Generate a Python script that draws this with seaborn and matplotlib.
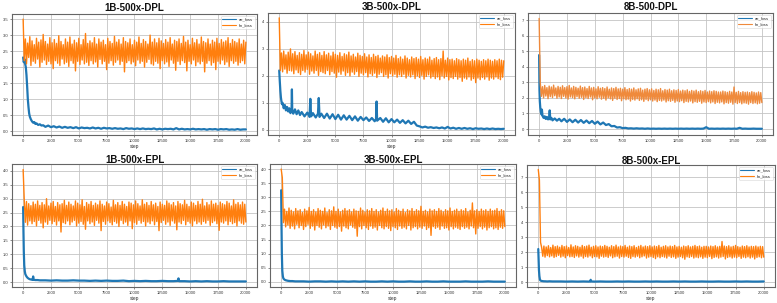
import numpy as np
import pandas as pd
import matplotlib
matplotlib.use("Agg")
import matplotlib.pyplot as plt
from matplotlib.ticker import MultipleLocator, FormatStrFormatter
import seaborn as sns

TITLES = ["1B-500x-DPL", "3B-500x-DPL", "8B-500-DPL",
          "1B-500x-EPL", "3B-500x-EPL", "8B-500x-EPL"]
XTICKS = [0, 2500, 5000, 7500, 10000, 12500, 15000, 17500, 20000]
SERIES_LABELS = ["ae_loss", "lm_loss"]

# sampling grids (training steps) for the later part of ae_loss
LATE_DENSE = list(range(2000, 20001, 250))
LATE_SPARSE = list(range(2000, 20001, 500))

# ---------------- ae_loss ----------------
ae_steps_1b_dpl = [0, 60, 120, 180, 240, 300, 360, 420, 480, 540, 600, 700, 800, 900, 1000,
                   1100, 1200, 1350, 1500, 1650, 1800] + LATE_DENSE
ae_1b_dpl = [2.30, 2.15, 2.25, 2.10, 2.00, 1.75, 1.40, 1.00, 0.75, 0.55, 0.45, 0.36, 0.30, 0.26, 0.28,
             0.22, 0.24, 0.19, 0.21, 0.17, 0.18,
             0.13, 0.17, 0.12, 0.15, 0.11, 0.14, 0.10, 0.13, 0.10,
             0.12, 0.09, 0.12, 0.08, 0.11, 0.09, 0.10, 0.08,
             0.11, 0.08, 0.10, 0.07, 0.10, 0.08, 0.09, 0.07,
             0.09, 0.07, 0.08, 0.06, 0.09, 0.07, 0.08, 0.06,
             0.08, 0.06, 0.08, 0.06, 0.07, 0.06, 0.08, 0.05,
             0.07, 0.05, 0.07, 0.06, 0.07, 0.05, 0.09, 0.05,
             0.07, 0.05, 0.06, 0.05, 0.07, 0.05, 0.06, 0.05,
             0.06, 0.04, 0.06, 0.05, 0.06, 0.04, 0.06, 0.05,
             0.06, 0.04, 0.05, 0.04, 0.06, 0.04, 0.05, 0.05]

ae_steps_3b_dpl = [0, 50, 100, 150, 200, 250, 300, 400, 500, 600, 700, 800, 900, 1000, 1100,
                   1130, 1160, 1250, 1400, 1550, 1700, 1850,
                   2000, 2250, 2500, 2700, 2770, 2840, 3000, 3250, 3450, 3520, 3590, 3750, 4000,
                   4250, 4500, 4750, 5000, 5250, 5500, 5750, 6000,
                   6250, 6500, 6750, 7000, 7250, 7500, 7750, 8000,
                   8250, 8500, 8620, 8670, 8720, 9000, 9250, 9500, 9750, 10000,
                   10250, 10500, 10750, 11000, 11250, 11500, 11750, 12000,
                   12250, 12500, 12750, 13000, 13250, 13500, 13750, 14000,
                   14250, 14500, 14750, 15000, 15250, 15500, 15750, 16000,
                   16250, 16500, 16750, 17000, 17250, 17500, 17750, 18000,
                   18250, 18500, 18750, 19000, 19250, 19500, 19750, 20000]
ae_3b_dpl = [2.20, 1.80, 1.45, 1.20, 1.05, 0.95, 1.00, 0.80, 0.92, 0.72, 0.85, 0.68, 0.80, 0.62, 0.78,
             1.50, 0.70, 0.60, 0.76, 0.58, 0.72, 0.55,
             0.66, 0.50, 0.64, 0.48, 1.15, 0.50, 0.62, 0.46, 0.60, 1.18, 0.48, 0.60, 0.44,
             0.60, 0.42, 0.58, 0.40, 0.56, 0.38, 0.54, 0.38,
             0.52, 0.36, 0.50, 0.34, 0.48, 0.36, 0.46, 0.33,
             0.44, 0.32, 0.40, 1.05, 0.34, 0.44, 0.30, 0.43, 0.28, 0.40,
             0.28, 0.38, 0.26, 0.36, 0.24, 0.34, 0.22, 0.30,
             0.16, 0.13, 0.09, 0.12, 0.08, 0.10, 0.07, 0.09,
             0.06, 0.09, 0.05, 0.11, 0.05, 0.08, 0.04, 0.07,
             0.04, 0.07, 0.04, 0.06, 0.03, 0.06, 0.04, 0.05,
             0.03, 0.05, 0.03, 0.05, 0.03, 0.04, 0.03, 0.04]

ae_steps_8b_dpl = [0, 30, 60, 100, 150, 200, 250, 300, 350, 400, 500, 600, 700, 800, 900,
                   950, 1000, 1100, 1200, 1400, 1600, 1800] + LATE_DENSE
ae_8b_dpl = [4.75, 2.50, 1.80, 1.40, 1.10, 0.95, 1.25, 0.85, 0.80, 0.72, 0.82, 0.65, 0.78, 0.62, 0.75,
             1.20, 0.62, 0.72, 0.56, 0.68, 0.54, 0.66,
             0.50, 0.66, 0.46, 0.62, 0.44, 0.60, 0.42, 0.58, 0.40,
             0.55, 0.38, 0.52, 0.34, 0.48, 0.30, 0.42, 0.26,
             0.32, 0.18, 0.20, 0.10, 0.12, 0.06, 0.08, 0.04,
             0.05, 0.03, 0.05, 0.03, 0.04, 0.02, 0.04, 0.02,
             0.03, 0.02, 0.03, 0.02, 0.03, 0.02, 0.03, 0.02,
             0.03, 0.02, 0.03, 0.02, 0.03, 0.02, 0.03, 0.02,
             0.03, 0.02, 0.03, 0.12, 0.02, 0.03, 0.02, 0.03,
             0.02, 0.03, 0.02, 0.03, 0.02, 0.03, 0.02, 0.08,
             0.02, 0.03, 0.02, 0.02, 0.03, 0.02, 0.02, 0.02]

ae_steps_1b_epl = ([0, 30, 60, 100, 150, 200, 300, 400, 500, 600, 700, 800, 850, 900, 950,
                    1100, 1300, 1500, 1750] + list(range(2000, 13501, 500))
                   + [13900, 13950, 14000] + list(range(14500, 20001, 500)))
ae_1b_epl = [2.70, 1.80, 1.10, 0.60, 0.38, 0.28, 0.20, 0.15, 0.12, 0.10, 0.09, 0.08, 0.08, 0.20, 0.08,
             0.07, 0.07, 0.06, 0.06,
             0.06, 0.05, 0.06, 0.05, 0.05, 0.06, 0.05, 0.05, 0.04, 0.05, 0.04, 0.05,
             0.04, 0.04, 0.05, 0.03, 0.04, 0.03, 0.04, 0.03, 0.03, 0.04, 0.03, 0.03,
             0.04, 0.13, 0.03,
             0.03, 0.02, 0.03, 0.02, 0.03, 0.02, 0.02, 0.03, 0.02, 0.02, 0.02, 0.02]

ae_steps_3b_epl = [0, 30, 60, 100, 150, 200, 300, 400, 500, 600, 800, 1000, 1250, 1500, 1750] + LATE_SPARSE
ae_3b_epl = [3.25, 2.00, 1.00, 0.40, 0.20, 0.12, 0.08, 0.06, 0.05, 0.04, 0.03, 0.03, 0.02, 0.02, 0.02,
             0.02, 0.01, 0.02, 0.02, 0.01, 0.02, 0.01, 0.02, 0.01, 0.02,
             0.01, 0.02, 0.01, 0.01, 0.02, 0.01, 0.02, 0.01, 0.01, 0.02,
             0.01, 0.01, 0.02, 0.01, 0.01, 0.02, 0.01, 0.01, 0.01, 0.02,
             0.01, 0.01, 0.01, 0.02, 0.01, 0.01, 0.01]

ae_steps_8b_epl = ([0, 30, 60, 100, 150, 200, 300, 400, 500, 600, 800, 1000, 1250, 1500, 1750,
                    2000, 2500, 3000, 3500, 4000, 4500, 4600, 4650, 4700]
                   + list(range(5000, 20001, 500)))
ae_8b_epl = [2.20, 1.50, 0.80, 0.40, 0.15, 0.10, 0.07, 0.06, 0.05, 0.05, 0.04, 0.05, 0.04, 0.04, 0.04,
             0.04, 0.03, 0.04, 0.03, 0.04, 0.03, 0.04, 0.15, 0.04,
             0.03, 0.04, 0.03, 0.03, 0.04, 0.03, 0.04, 0.03, 0.03, 0.04,
             0.03, 0.04, 0.03, 0.03, 0.04, 0.03, 0.04, 0.03, 0.03, 0.04,
             0.03, 0.03, 0.04, 0.03, 0.03, 0.04, 0.03, 0.04, 0.03, 0.03, 0.04]

# ---------------- lm_loss (read at evenly spaced steps 0..20000) ----------------
lm_1b_dpl = [3.50, 2.20, 2.88, 2.10, 2.75, 2.30, 2.95, 2.05, 2.82, 2.18, 2.70, 2.12, 2.90, 2.25, 2.78, 2.00, 2.85, 2.15, 3.02, 2.22,
             2.80, 2.08, 2.72, 2.18, 2.92, 2.10, 2.76, 1.95, 2.86, 2.20, 2.74, 2.12, 2.98, 2.05, 2.80, 2.25, 2.70, 2.10, 2.88, 2.15,
             2.78, 2.02, 2.94, 2.20, 2.72, 2.12, 2.84, 1.88, 2.76, 2.18, 2.90, 2.08, 2.70, 2.22, 2.86, 2.10, 3.05, 2.15, 2.74, 2.05,
             2.82, 2.20, 2.76, 2.10, 2.92, 2.16, 2.72, 2.00, 2.88, 2.24, 2.78, 2.10, 2.84, 2.18, 2.70, 1.92, 2.90, 2.12, 2.80, 2.20,
             2.74, 2.06, 2.96, 2.15, 2.78, 2.22, 2.86, 2.08, 2.72, 2.18, 2.92, 1.85, 2.80, 2.14, 2.76, 2.20, 2.88, 2.10, 2.70, 2.16,
             2.84, 2.04, 2.78, 2.22, 2.94, 2.12, 2.74, 2.18, 2.86, 2.00, 2.80, 2.15, 2.72, 2.24, 3.00, 2.10, 2.78, 2.06, 2.88, 2.18,
             2.76, 2.12, 2.90, 1.95, 2.82, 2.20, 2.74, 2.10, 2.86, 2.16, 2.78, 2.02, 2.92, 2.22, 2.72, 2.12, 2.84, 1.90, 2.80, 2.18,
             2.88, 2.08, 2.74, 2.20, 2.96, 2.14, 2.78, 1.88, 2.84, 2.18, 2.70, 2.10, 2.90, 2.22, 2.76, 2.04, 2.86, 2.16, 2.72, 2.10,
             2.94, 2.18, 2.80, 1.85, 2.76, 2.12, 2.88, 2.20, 2.72, 2.06, 2.84, 2.14, 2.78, 1.92, 2.90, 2.18, 2.74, 2.10, 2.86, 2.22,
             2.78, 2.08, 2.82, 2.16, 2.92, 2.02, 2.74, 2.20, 2.86, 2.12, 2.80, 2.18, 2.76, 2.06, 2.88, 2.14, 2.72, 2.20, 2.84, 2.10,
             2.78]
lm_3b_dpl = [4.15, 2.20, 2.85, 2.15, 2.92, 2.25, 2.78, 2.10, 2.88, 2.20, 3.00, 2.18, 2.82, 2.08, 2.90, 2.22, 2.76, 2.12, 2.86, 2.05,
             2.80, 2.20, 2.94, 2.14, 2.78, 2.24, 2.88, 2.06, 2.82, 2.18, 2.74, 2.10, 2.92, 2.20, 2.80, 2.02, 2.86, 2.16, 2.76, 2.12,
             2.90, 2.08, 2.78, 2.20, 2.84, 2.04, 2.74, 2.16, 2.88, 2.10, 2.80, 1.95, 2.76, 2.14, 2.86, 2.06, 2.72, 2.18, 2.82, 2.02,
             2.78, 2.12, 2.88, 2.00, 2.74, 2.14, 2.80, 2.06, 2.70, 2.16, 2.84, 1.98, 2.76, 2.10, 2.72, 2.04, 2.82, 2.12, 2.70, 1.96,
             2.78, 2.08, 2.68, 2.02, 2.80, 2.10, 2.72, 1.94, 2.76, 2.06, 2.66, 2.12, 2.74, 1.98, 2.70, 2.04, 2.78, 1.92, 2.68, 2.08,
             2.72, 2.00, 2.66, 2.06, 2.76, 1.95, 2.64, 2.04, 2.70, 1.98, 2.62, 2.06, 2.74, 1.92, 2.66, 2.02, 2.60, 1.96, 2.70, 2.04,
             2.64, 1.90, 2.68, 2.00, 2.62, 1.94, 2.72, 2.02, 2.60, 1.88, 2.66, 1.98, 2.62, 2.04, 2.70, 1.92, 2.58, 1.98, 2.64, 1.90,
             2.68, 1.96, 2.60, 1.86, 2.64, 2.00, 2.92, 1.92, 2.58, 1.98, 2.66, 1.85, 2.60, 1.94, 2.62, 1.90, 2.56, 1.98, 2.64, 1.88,
             2.60, 1.94, 2.56, 1.80, 2.62, 1.92, 2.58, 1.88, 2.66, 1.96, 2.54, 1.84, 2.60, 1.90, 2.56, 1.75, 2.62, 1.92, 2.58, 1.86,
             2.54, 1.94, 2.60, 1.88, 2.56, 1.96, 2.62, 1.84, 2.58, 1.92, 2.54, 1.88, 2.60, 1.96, 2.56, 1.90, 2.62, 1.86, 2.58, 1.95,
             2.56]
lm_8b_dpl = [7.10, 3.00, 2.10, 2.72, 2.00, 2.80, 2.12, 2.66, 1.95, 2.76, 2.08, 2.70, 2.02, 2.82, 2.14, 2.64, 1.98, 2.74, 2.06, 2.68,
             1.96, 2.78, 2.10, 2.66, 2.00, 2.72, 1.92, 2.80, 2.06, 2.64, 2.02, 2.74, 1.94, 2.68, 2.08, 2.62, 1.98, 2.76, 2.04, 2.66,
             1.90, 2.70, 2.02, 2.60, 1.96, 2.74, 2.06, 2.64, 1.88, 2.68, 2.00, 2.58, 1.94, 2.72, 2.04, 2.62, 1.92, 2.66, 1.98, 2.60,
             1.86, 2.70, 2.00, 2.56, 1.94, 2.64, 1.84, 2.60, 1.98, 2.68, 1.90, 2.58, 1.96, 2.62, 1.82, 2.56, 1.94, 2.66, 1.88, 2.54,
             1.92, 2.60, 1.80, 2.56, 1.90, 2.64, 1.86, 2.52, 1.94, 2.58, 1.84, 2.62, 1.88, 2.50, 1.78, 2.56, 1.90, 2.60, 1.82, 2.52,
             1.88, 2.58, 1.80, 2.48, 1.86, 2.56, 1.76, 2.52, 1.84, 2.60, 1.80, 2.46, 1.86, 2.54, 1.74, 2.50, 1.82, 2.56, 1.78, 2.46,
             1.84, 2.52, 1.72, 2.48, 1.80, 2.54, 1.76, 2.44, 1.82, 2.50, 1.70, 2.46, 1.78, 2.52, 1.74, 2.42, 1.80, 2.48, 1.68, 2.44,
             1.76, 2.50, 1.72, 2.40, 1.78, 2.46, 1.66, 2.42, 1.74, 2.48, 1.70, 2.38, 1.76, 2.44, 1.68, 2.40, 1.74, 2.46, 1.64, 2.42,
             1.72, 2.38, 1.68, 2.38, 1.74, 2.44, 1.62, 2.40, 1.70, 2.36, 1.66, 2.42, 1.72, 2.38, 1.60, 2.70, 1.70, 2.36, 1.64, 2.42,
             1.70, 2.34, 1.62, 2.40, 1.68, 2.36, 1.66, 2.38, 1.60, 2.34, 1.70, 2.40, 1.64, 2.36, 1.68, 2.32, 1.62, 2.38, 1.66, 2.34,
             1.70]
lm_1b_epl = [4.05, 2.95, 2.15, 2.90, 2.05, 2.82, 2.20, 2.75, 2.10, 2.88, 2.18, 2.80, 2.02, 2.92, 2.22, 2.76, 2.12, 2.86, 1.95, 2.78,
             2.16, 3.00, 2.08, 2.74, 2.22, 2.84, 2.10, 2.90, 2.18, 2.72, 2.05, 2.86, 2.20, 2.78, 1.80, 2.82, 2.14, 2.94, 2.10, 2.76,
             2.20, 2.88, 2.06, 2.80, 2.16, 2.74, 2.22, 2.92, 2.02, 2.84, 2.12, 2.78, 2.18, 2.96, 2.08, 2.72, 1.90, 2.86, 2.20, 2.80,
             2.10, 2.90, 2.16, 2.76, 2.04, 2.84, 2.22, 2.78, 2.12, 2.92, 1.85, 2.80, 2.18, 2.74, 2.08, 2.88, 2.20, 2.82, 2.14, 2.70,
             2.06, 2.94, 2.18, 2.78, 2.12, 2.86, 2.00, 2.76, 2.22, 2.90, 2.10, 2.80, 2.16, 2.72, 2.04, 2.88, 2.20, 2.84, 1.92, 2.78,
             2.14, 2.92, 2.08, 2.82, 2.22, 2.74, 2.12, 2.96, 2.18, 2.80, 2.02, 2.86, 2.16, 2.76, 2.10, 2.90, 2.20, 2.78, 2.06, 2.84,
             2.18, 2.72, 1.85, 2.88, 2.14, 2.80, 2.22, 2.76, 2.08, 2.92, 2.16, 2.84, 2.04, 2.78, 2.20, 2.86, 2.12, 2.74, 1.88, 2.90,
             2.16, 2.82, 2.10, 2.78, 2.22, 2.94, 2.06, 2.80, 2.18, 2.72, 2.12, 2.88, 2.02, 2.84, 2.20, 2.76, 2.10, 2.90, 2.16, 2.80,
             2.08, 2.98, 2.18, 2.74, 2.12, 2.86, 2.22, 2.78, 2.04, 2.92, 2.14, 2.80, 2.20, 2.84, 2.10, 2.76, 1.86, 2.88, 2.16, 2.82,
             2.12, 2.78, 2.20, 2.90, 2.06, 2.84, 2.18, 2.74, 2.10, 2.96, 2.14, 2.80, 2.02, 2.86, 2.20, 2.78, 2.12, 2.88, 2.08, 2.80,
             2.16]
lm_3b_epl = [4.00, 3.70, 2.10, 2.58, 1.95, 2.50, 2.02, 2.62, 1.90, 2.54, 1.98, 2.48, 1.88, 2.60, 2.04, 2.52, 1.92, 2.56, 2.00, 2.46,
             1.86, 2.58, 1.96, 2.52, 2.04, 2.64, 1.90, 2.50, 1.98, 2.56, 1.84, 2.48, 2.00, 2.60, 1.94, 2.54, 1.88, 2.50, 2.02, 2.62,
             1.92, 2.46, 1.98, 2.56, 1.86, 2.52, 2.00, 2.66, 1.94, 2.50, 1.90, 2.58, 1.96, 2.48, 1.80, 2.54, 1.98, 2.60, 1.92, 2.52,
             1.88, 2.56, 2.02, 2.48, 1.94, 2.58, 1.90, 2.52, 1.62, 2.50, 1.96, 2.62, 1.88, 2.54, 2.00, 2.48, 1.92, 2.56, 1.86, 2.52,
             1.98, 2.60, 1.90, 2.50, 1.94, 2.56, 1.84, 2.48, 2.00, 2.54, 1.92, 2.62, 1.88, 2.50, 1.96, 2.58, 1.90, 2.52, 1.82, 2.56,
             1.96, 2.48, 1.92, 2.60, 1.86, 2.54, 1.98, 2.50, 1.90, 2.58, 1.94, 2.46, 1.88, 2.56, 2.00, 2.52, 1.84, 2.60, 1.92, 2.50,
             1.96, 2.56, 1.88, 2.52, 1.94, 2.68, 1.90, 2.50, 1.98, 2.54, 1.86, 2.48, 1.92, 2.58, 1.65, 2.52, 1.96, 2.56, 1.90, 2.50,
             1.94, 2.60, 1.86, 2.54, 1.98, 2.48, 1.90, 2.56, 1.92, 2.52, 1.84, 2.62, 1.96, 2.50, 1.88, 2.54, 1.94, 2.58, 1.90, 2.50,
             1.86, 2.56, 1.96, 2.52, 1.90, 2.60, 1.94, 2.48, 1.88, 2.54, 1.98, 2.80, 1.92, 2.52, 1.70, 2.56, 1.90, 2.50, 1.96, 2.58,
             1.88, 2.52, 1.94, 2.56, 1.84, 2.50, 1.92, 2.58, 1.96, 2.52, 1.88, 2.54, 1.92, 2.60, 1.86, 2.50, 1.94, 2.56, 1.90, 2.52,
             1.96]
lm_8b_epl = [7.50, 6.80, 2.65, 2.30, 1.72, 2.40, 1.66, 2.34, 1.76, 2.42, 1.68, 2.30, 1.74, 2.46, 1.64, 2.36, 1.70, 2.40, 1.78, 2.32,
             1.66, 2.44, 1.72, 2.36, 1.62, 2.40, 1.76, 2.30, 1.68, 2.48, 1.70, 2.34, 1.64, 2.42, 1.74, 2.38, 1.66, 2.32, 1.72, 2.44,
             1.60, 2.36, 1.70, 2.40, 1.66, 2.46, 1.74, 2.32, 1.62, 2.38, 1.70, 2.42, 1.68, 2.34, 1.58, 2.40, 1.72, 2.36, 1.66, 2.44,
             1.70, 2.38, 1.64, 2.32, 1.74, 2.42, 1.62, 2.36, 1.68, 2.46, 1.72, 2.34, 1.60, 2.40, 1.70, 2.36, 1.66, 2.44, 1.72, 2.32,
             1.64, 2.40, 1.58, 2.36, 1.70, 2.42, 1.66, 2.30, 1.72, 2.38, 1.62, 2.44, 1.68, 2.34, 1.74, 2.40, 1.60, 2.36, 1.66, 2.42,
             1.70, 2.34, 1.64, 2.40, 1.56, 2.36, 1.68, 2.44, 1.62, 2.32, 1.70, 2.38, 1.66, 2.42, 1.60, 2.34, 1.72, 2.40, 1.64, 2.36,
             1.68, 2.44, 1.58, 2.34, 1.66, 2.38, 1.70, 2.32, 1.62, 2.40, 1.52, 2.36, 1.68, 2.42, 1.64, 2.34, 1.70, 2.38, 1.60, 2.44,
             1.66, 2.36, 1.62, 2.40, 1.68, 2.32, 1.58, 2.38, 1.66, 2.38, 1.62, 2.34, 1.70, 2.40, 1.56, 2.36, 1.64, 2.42, 1.68, 2.34,
             1.60, 2.38, 1.66, 2.70, 1.70, 2.40, 1.54, 2.36, 1.64, 2.42, 1.68, 2.34, 1.60, 2.38, 1.66, 2.44, 1.62, 2.36, 1.70, 2.32,
             1.58, 2.40, 1.66, 2.36, 1.62, 2.42, 1.68, 2.34, 1.60, 2.38, 1.66, 2.36, 1.54, 2.40, 1.64, 2.34, 1.68, 2.38, 1.62, 2.36,
             1.66]

AE_STEPS = [ae_steps_1b_dpl, ae_steps_3b_dpl, ae_steps_8b_dpl,
            ae_steps_1b_epl, ae_steps_3b_epl, ae_steps_8b_epl]
AE = [ae_1b_dpl, ae_3b_dpl, ae_8b_dpl, ae_1b_epl, ae_3b_epl, ae_8b_epl]
LM = [lm_1b_dpl, lm_3b_dpl, lm_8b_dpl, lm_1b_epl, lm_3b_epl, lm_8b_epl]

# ---------------- styling / layout ----------------
sns.set_theme(style="whitegrid")
plt.rcParams["font.family"] = ["Liberation Sans", "DejaVu Sans"]

W, H = 777, 303
fig = plt.figure(figsize=(W / 100, H / 100), dpi=100, facecolor="white")

# axes boxes in pixels: x0, y0(top), x1, y1(bottom)
BOXES = [(12, 14, 257, 135), (268, 13, 515, 135), (528, 13, 773, 135),
         (12, 164, 257, 287), (270, 164, 516, 287), (527, 165, 775, 287)]
YLIMS = [(-0.125, 3.66), (-0.19, 4.33), (-0.38, 7.45),
         (-0.18, 4.25), (-0.18, 4.18), (-0.33, 7.8)]
YSTEP = [0.5, 1, 1, 0.5, 0.5, 1]
YFMT = ["%.1f", "%d", "%d", "%.1f", "%.1f", "%d"]
SHOW_XLABEL = [True, True, False, True, True, True]
BLUE = "#1f77b4"
ORANGES = ["#ff7f0e", "#ff7f0e", "#ef8a3c", "#ff7f0e", "#ff7f0e", "#ff7f0e"]
TITLE_PAD = [2.2, 2.2, 2.2, 0.6, 0.6, 0.6]

for i in range(6):
    x0, y0, x1, y1 = BOXES[i]
    ax = fig.add_axes([x0 / W, 1 - y1 / H, (x1 - x0) / W, (y1 - y0) / H])
    ax.set_facecolor("white")

    steps, ae = AE_STEPS[i], AE[i]
    n = min(len(steps), len(ae))
    df_ae = pd.DataFrame({"step": steps[:n], "loss": ae[:n]})
    lm = LM[i]
    df_lm = pd.DataFrame({"step": np.linspace(0, 20000, len(lm)), "loss": lm})

    sns.lineplot(data=df_ae, x="step", y="loss", ax=ax, color=BLUE, lw=1.6,
                 label=SERIES_LABELS[0], estimator=None, sort=False)
    sns.lineplot(data=df_lm, x="step", y="loss", ax=ax, color=ORANGES[i], lw=1.0,
                 label=SERIES_LABELS[1], estimator=None, sort=False)

    ax.set_xlim(-1000, 21000)
    ax.set_ylim(*YLIMS[i])
    ax.set_xticks(XTICKS)
    ax.set_xticklabels([str(t) for t in XTICKS])
    ax.yaxis.set_major_locator(MultipleLocator(YSTEP[i]))
    ax.yaxis.set_major_formatter(FormatStrFormatter(YFMT[i]))

    ax.grid(which="major", color="#c4c4c4", lw=0.6)
    ax.tick_params(axis="both", which="major", labelsize=3, length=1.5, width=0.4,
                   pad=1.2, colors="#333333", bottom=True, left=True)
    for s in ax.spines.values():
        s.set_color("#666666")
        s.set_linewidth(0.8)

    ax.set_ylabel("")
    if SHOW_XLABEL[i]:
        ax.set_xlabel("step", fontsize=3.5, labelpad=1, color="#333333")
    else:
        ax.set_xlabel("")

    ax.set_title(TITLES[i], fontsize=7, fontweight="heavy", pad=TITLE_PAD[i], color="#111111")

    leg = ax.legend(loc="upper right", fontsize=3, handlelength=3.2, borderpad=0.4,
                    labelspacing=0.3, frameon=True, fancybox=True)
    leg.get_frame().set_linewidth(0.4)
    leg.get_frame().set_edgecolor("#cccccc")
    for ln in leg.get_lines():
        ln.set_linewidth(0.8)

fig.savefig("out.png", dpi=100, facecolor="white")
